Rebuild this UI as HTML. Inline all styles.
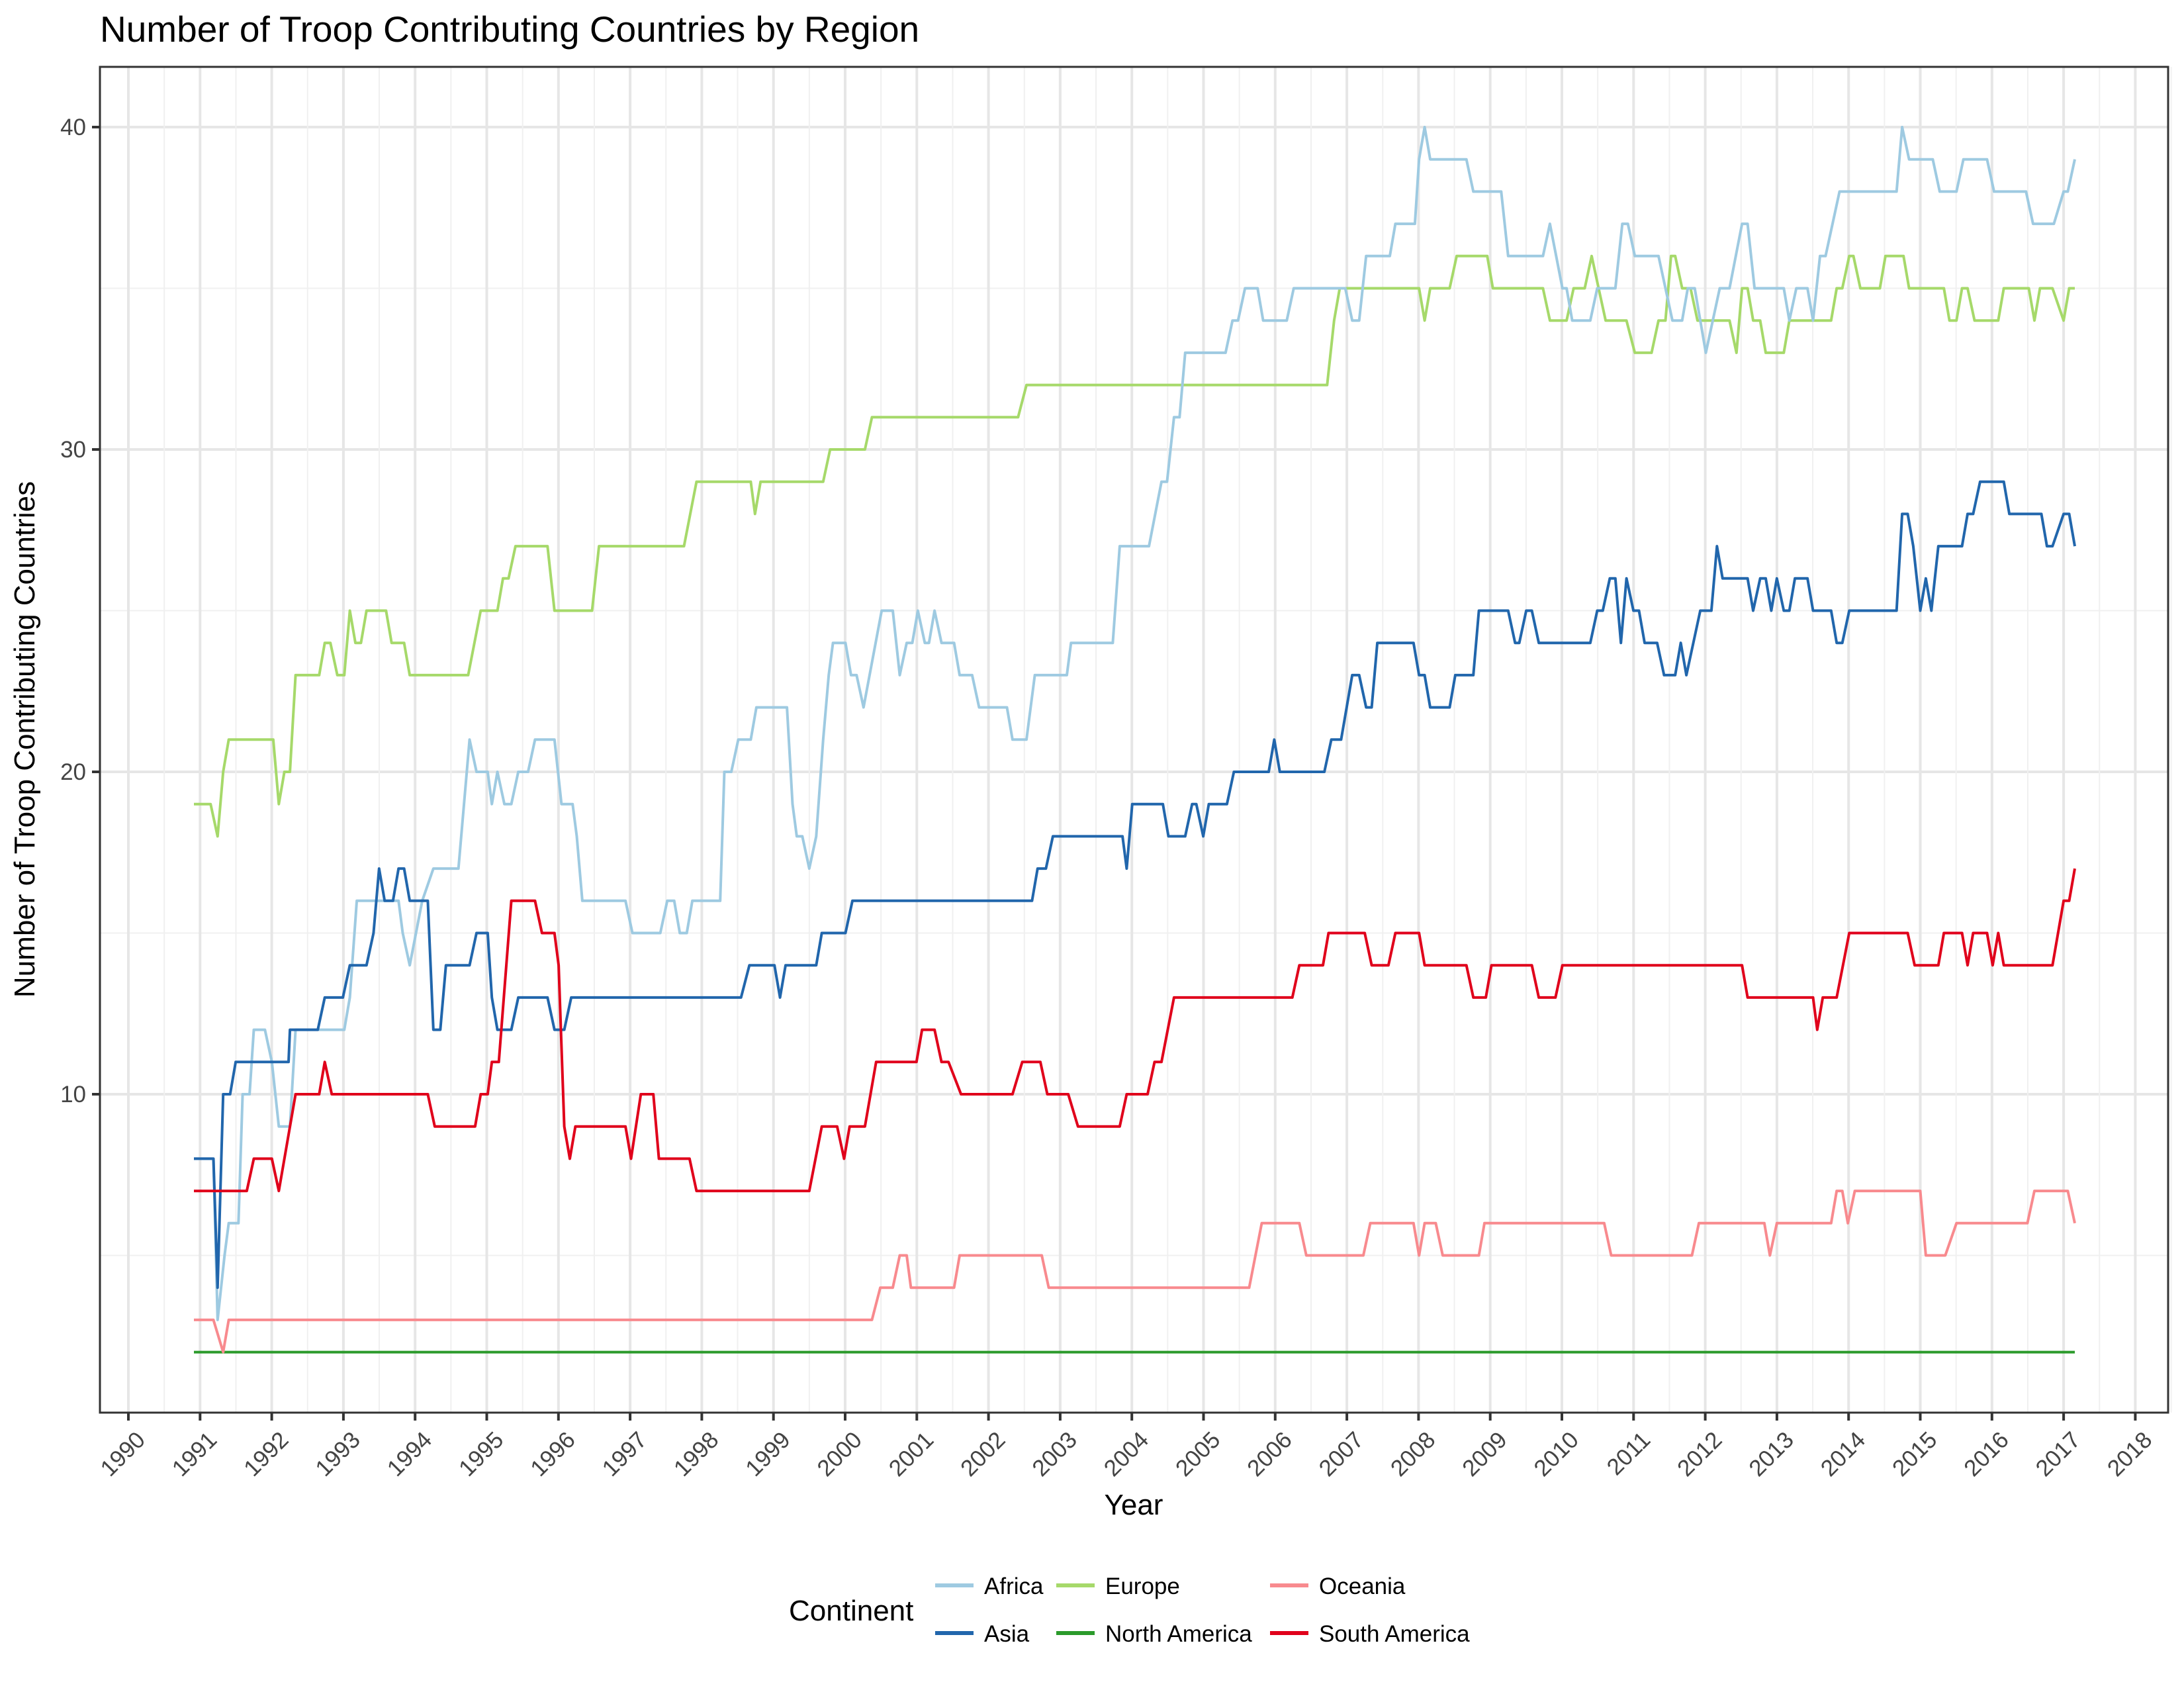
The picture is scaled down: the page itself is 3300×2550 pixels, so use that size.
<!DOCTYPE html>
<html><head><meta charset="utf-8"><style>
html,body{margin:0;padding:0;background:#fff;}
svg{display:block;font-family:"Liberation Sans",Arial,sans-serif;}
</style></head><body>
<svg id="s" width="3300" height="2550" xmlns="http://www.w3.org/2000/svg">
<rect width="3300" height="2550" fill="#fff"/>
<text x="151" y="63" font-size="55" fill="#000">Number of Troop Contributing Countries by Region</text>
<g id="grid"></g>
<g id="lines"></g>
<rect x="151" y="101" width="3125" height="2033" fill="none" stroke="#333" stroke-width="3"/>
<g id="ticks"></g>
<text x="1713" y="2288" font-size="44" text-anchor="middle" fill="#000">Year</text>
<text transform="translate(52,1117) rotate(-90)" font-size="44" text-anchor="middle" fill="#000">Number of Troop Contributing Countries</text>
<text x="1192" y="2448" font-size="44" fill="#000">Continent</text>
<g font-size="35" fill="#000">
<line x1="1413" x2="1471" y1="2395" y2="2395" stroke="#9ecae1" stroke-width="6"/><text x="1487" y="2408">Africa</text>
<line x1="1413" x2="1471" y1="2467" y2="2467" stroke="#2166ac" stroke-width="6"/><text x="1487" y="2480">Asia</text>
<line x1="1596" x2="1654" y1="2395" y2="2395" stroke="#a6d96a" stroke-width="6"/><text x="1670" y="2408">Europe</text>
<line x1="1596" x2="1654" y1="2467" y2="2467" stroke="#2b9a2b" stroke-width="6"/><text x="1670" y="2480">North America</text>
<line x1="1919" x2="1977" y1="2395" y2="2395" stroke="#f88a8e" stroke-width="6"/><text x="1993" y="2408">Oceania</text>
<line x1="1919" x2="1977" y1="2467" y2="2467" stroke="#e0001b" stroke-width="6"/><text x="1993" y="2480">South America</text>
</g>
</svg>
<script>
var NS="http://www.w3.org/2000/svg";
function el(t,a,p){var e=document.createElementNS(NS,t);for(var k in a)e.setAttribute(k,a[k]);p.appendChild(e);return e;}
function X(y){return 194+(y-1990)*108.3;}
function Y(v){return 192+(40-v)*48.7;}
var g=document.getElementById('grid'),tk=document.getElementById('ticks'),ln=document.getElementById('lines');
for(var v=5;v<=40;v+=5){var maj=v%10==0;el('line',{x1:151,x2:3276,y1:Y(v),y2:Y(v),stroke:maj?'#e6e6e6':'#f0f0f0','stroke-width':maj?4:2},g);}
for(var y=1990;y<=2018.5;y+=0.5){var maj=y%1==0;el('line',{x1:X(y),x2:X(y),y1:101,y2:2134,stroke:maj?'#e6e6e6':'#f0f0f0','stroke-width':maj?4:2},g);}
for(var v=10;v<=40;v+=10){el('line',{x1:139,x2:151,y1:Y(v),y2:Y(v),stroke:'#333','stroke-width':4},tk);
var t=el('text',{x:130,y:Y(v)+12,'font-size':35,'text-anchor':'end',fill:'#444'},tk);t.textContent=v;}
for(var y=1990;y<=2018;y++){el('line',{x1:X(y),x2:X(y),y1:2134,y2:2146,stroke:'#333','stroke-width':4},tk);
var t=el('text',{transform:'translate('+(X(y)+10)+',2160) rotate(-45)','font-size':35,'text-anchor':'end',fill:'#444'},tk);t.textContent=y;t.setAttribute('dy','0.7em');}
function XD(xd){return 293+(xd-138)*2.1036;}
function draw(s,c){var pts=[];s.split(',').forEach(function(p){var a=p.split(':'),v=+a[1],r=a[0].split('-');r.forEach(function(x){pts.push(XD(+x).toFixed(1)+','+Y(v).toFixed(1));});});
el('polyline',{points:pts.join(' '),fill:'none',stroke:c,'stroke-width':4,'stroke-linejoin':'round'},ln);}
draw("138-1489:2","#2b9a2b");
draw("138-152:3,159:2,163-625:3,631-640:4,645-650:5,653-684:4,688-747:5,752-896:4,905-932:6,937-978:5,983-1014:6,1018:5,1022-1030:6,1035-1061:5,1065-1151:6,1156-1214:5,1219-1266:6,1270:5,1275-1314:6,1318-1322:7,1326:6,1331-1378:7,1382-1396:5,1404-1455:6,1460-1484:7,1489:6","#f88a8e");
draw("138-150:19,155:18,159:20,163-195:21,199:19,203-207:20,211-228:23,232-236:24,241-246:23,250:25,254-258:24,262-276:25,280-289:24,293-335:23,344-356:25,360-364:26,369-392:27,397-424:25,429-490:27,499-538:29,541:28,545-590:29,595-620:30,625-730:31,736-952:32,957:34,961-1018:35,1022:34,1026-1040:35,1045-1067:36,1071-1107:35,1112-1124:34,1129-1137:35,1142:36,1147:35,1152-1167:34,1173-1185:33,1190-1195:34,1199-1202:36,1207-1213:35,1218-1241:34,1246:33,1250-1254:35,1258-1263:34,1267-1280:33,1284-1314:34,1318-1322:35,1327-1330:36,1335-1349:35,1353-1366:36,1370-1395:35,1399-1404:34,1408-1412:35,1417-1434:34,1438-1456:35,1460:34,1464-1473:35,1481:34,1485-1489:35","#a6d96a");
draw("138-152:8,155:3,160:5,163-170:6,173-178:10,181-189:12,194:11,199-207:9,211-246:12,250:13,255-285:16,288:15,293:14,302:16,310-328:17,336:21,341-349:20,352:19,356:20,361-366:19,371-378:20,383-397:21,402-410:19,413:18,417-448:16,453-473:15,478-483:16,487-492:15,496-516:16,519-524:20,529-538:21,542-564:22,568:19,571-575:18,580:17,585:18,590:21,594:23,597-606:24,610-614:23,619:22,632-640:25,645:23,650-654:24,658:25,663-666:24,670:25,675-684:24,688-697:23,702-722:22,726-736:21,742-765:23,768-798:24,803-824:27,833-837:29,842-846:31,850-879:33,884-888:34,893-902:35,906-923:34,928-965:35,970-975:34,980-997:36,1001-1015:37,1018:39,1022:40,1026-1052:39,1057-1077:38,1082-1107:36,1112:37,1121-1124:35,1128-1141:34,1146-1159:35,1164-1168:37,1173-1190:36,1195:35,1200-1207:34,1211-1216:35,1220:34,1224:33,1229:34,1234-1241:35,1250-1254:37,1259-1280:35,1284:34,1289-1297:35,1301:34,1306-1310:36,1320-1361:38,1365:40,1370-1387:39,1392-1404:38,1409-1426:39,1431-1454:38,1459-1474:37,1481-1484:38,1489:39","#9ecae1");
draw("138-152:8,155:4,159-164:10,168-206:11,207-227:12,232-245:13,250-262:14,267:15,271:17,275-281:16,285-289:17,293-306:16,310-315:12,319-336:14,341-349:15,352:13,356-366:12,371-392:13,397-404:12,409-531:13,537-555:14,559:13,563-585:14,589-606:15,611-740:16,744-750:17,755-805:18,808:17,812-834:19,838-850:18,855-858:19,863:18,867-880:19,885-910:20,914:21,918-950:20,955-962:21,970-975:23,980-984:22,988-1014:24,1018-1022:23,1026-1040:22,1044-1057:23,1061-1082:25,1087-1090:24,1095-1099:25,1104-1141:24,1146-1150:25,1155-1159:26,1163:24,1167:26,1172-1176:25,1180-1189:24,1194-1202:23,1206:24,1210:23,1220-1228:25,1232:27,1236-1254:26,1258:25,1263-1267:26,1271:25,1275:26,1280-1284:25,1288-1297:26,1301-1314:25,1318-1322:24,1327-1361:25,1365-1369:28,1373:27,1378:25,1382:26,1386:25,1391-1408:27,1412-1416:28,1421-1438:29,1442-1465:28,1469-1473:27,1481-1485:28,1489:27","#2166ac");
draw("138-176:7,181-194:8,199:7,211-228:10,232:11,237-306:10,311-340:9,344-349:10,352-357:11,366-383:16,388-397:15,400:14,404:9,408:8,412-448:9,452:8,459-468:10,472-494:8,499-580:7,589-600:9,605:8,609-620:9,628-657:11,661-670:12,675-680:11,689-726:10,733-746:11,751-766:10,773-803:9,808-823:10,828-833:11,842-927:13,932-949:14,953-979:15,984-996:14,1001-1018:15,1022-1052:14,1057-1066:13,1070-1099:14,1104-1116:13,1121-1250:14,1254-1301:13,1304:12,1308-1318:13,1327-1369:15,1374-1391:14,1395-1408:15,1412:14,1416-1426:15,1430:14,1434:15,1438-1473:14,1481-1485:16,1489:17","#e0001b");
</script>
</body></html>
